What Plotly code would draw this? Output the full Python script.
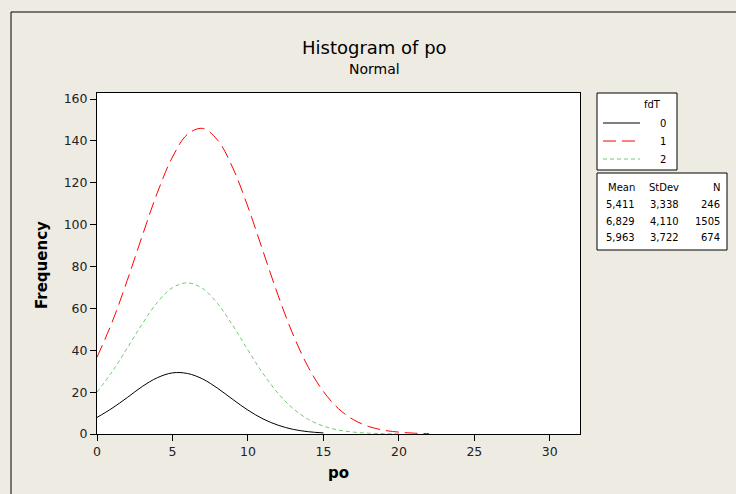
import plotly.graph_objects as go

# Data (fitted normal curves, frequency per unit of po)
x_fd0 = list(range(0, 16))
y_fd0 = [7.9, 12.3, 17.4, 22.7, 26.9, 29.2, 28.9, 26.3, 21.8, 16.5, 11.4, 7.2, 4.2, 2.2, 1.1, 0.5]

x_fd1 = list(range(0, 23))
y_fd1 = [36.7, 53.4, 73.3, 94.7, 115.3, 132.3, 143.2, 146.0, 140.3, 127.1, 108.5, 87.3,
         66.2, 47.3, 31.9, 20.3, 12.1, 6.8, 3.6, 1.8, 0.9, 0.4, 0.2]

x_fd2 = list(range(0, 21))
y_fd2 = [20.0, 29.7, 41.0, 52.6, 62.9, 69.9, 72.2, 69.5, 62.2, 51.8, 40.1, 28.9,
         19.4, 12.1, 7.0, 3.8, 1.9, 0.9, 0.4, 0.2, 0.1]

groups = ["0", "1", "2"]
means = ["5,411", "6,829", "5,963"]
stdevs = ["3,338", "4,110", "3,722"]
counts = ["246", "1505", "674"]

x_ticks = [0, 5, 10, 15, 20, 25, 30]
y_ticks = [0, 20, 40, 60, 80, 100, 120, 140, 160]

colors = ["#000000", "#FF0000", "#70CC70"]
dashes = ["solid", "13px,6px", "4px,3px"]

FONT = "DejaVu Sans"
BG = "#EEEBE2"

fig = go.Figure()
for xs, ys, c, d in zip([x_fd0, x_fd1, x_fd2], [y_fd0, y_fd1, y_fd2], colors, dashes):
    fig.add_trace(go.Scatter(x=xs, y=ys, mode="lines", showlegend=False, hoverinfo="skip",
                             line=dict(color=c, dash=d, width=1, shape="spline")))

# plot area in pixels: x 97..580, y 93..434
L, R, T, B = 97, 580, 93, 434
def px(x):
    return (x - L) / (R - L)
def py(y):
    return (B - y) / (B - T)

shapes = []
annotations = []

def txt(t, x, y, size, anchor="center", bold=False, angle=0):
    annotations.append(dict(text=f"<b>{t}</b>" if bold else t, xref="paper", yref="paper",
                            x=px(x), y=py(y), showarrow=False, xanchor=anchor, yanchor="middle",
                            textangle=angle, font=dict(family=FONT, size=size, color="#000")))

# outer frame lines
shapes.append(dict(type="line", xref="paper", yref="paper", x0=px(11), x1=px(740), y0=py(12), y1=py(12),
                   line=dict(color="#000000", width=1)))
shapes.append(dict(type="line", xref="paper", yref="paper", x0=px(11), x1=px(11), y0=py(12), y1=py(500),
                   line=dict(color="#000000", width=1)))

# legend box 1
shapes.append(dict(type="rect", xref="paper", yref="paper", x0=px(597), x1=px(677), y0=py(93), y1=py(170),
                   line=dict(color="#000000", width=1), fillcolor="#FFFFFF"))
txt("fdT", 652, 105, 10)
for i, (g, c, d) in enumerate(zip(groups, colors, dashes)):
    yy = 123 + i * 18
    shapes.append(dict(type="line", xref="paper", yref="paper", x0=px(603), x1=px(640), y0=py(yy), y1=py(yy),
                       line=dict(color=c, width=1, dash=d)))
    txt(g, 663, yy, 10)

# legend box 2 (statistics)
shapes.append(dict(type="rect", xref="paper", yref="paper", x0=px(597), x1=px(727), y0=py(173), y1=py(250),
                   line=dict(color="#000000", width=1), fillcolor="#FFFFFF"))
cols = [637, 681, 722]
for t, xr in zip(["Mean", "StDev", "N"], cols):
    txt(t, xr, 187, 10, anchor="right")
for i in range(3):
    yy = 204 + i * 17
    for t, xr in zip([means[i], stdevs[i], counts[i]], cols):
        txt(t, xr, yy, 10, anchor="right")

# titles
txt("Histogram of po", 374, 48, 18)
txt("Normal", 374, 69, 14)
txt("po", 338, 473, 15, bold=True)
txt("Frequency", 42, 265, 15, bold=True, angle=-90)

fig.update_layout(
    width=736, height=494,
    margin=dict(l=L, r=736 - R, t=T, b=494 - B, pad=0),
    paper_bgcolor=BG, plot_bgcolor="#FFFFFF",
    font=dict(family=FONT, size=12.5, color="#000"),
    shapes=shapes, annotations=annotations,
    hovermode=False,
    xaxis=dict(range=[0, 32], tickvals=x_ticks, ticks="outside", ticklen=6, tickcolor="#000",
               showline=True, linecolor="#000", linewidth=1, mirror=True, showgrid=False, zeroline=False,
               tickfont=dict(family=FONT, size=12.5, color="#222")),
    yaxis=dict(range=[0, 162.9], tickvals=y_ticks, ticks="outside", ticklen=6, tickcolor="#000",
               showline=True, linecolor="#000", linewidth=1, mirror=True, showgrid=False, zeroline=False,
               tickfont=dict(family=FONT, size=12.5, color="#222")),
)

fig.write_html("out.html", config={"displayModeBar": False},
               post_script="document.body.style.margin='0';document.body.style.overflow='hidden';")
